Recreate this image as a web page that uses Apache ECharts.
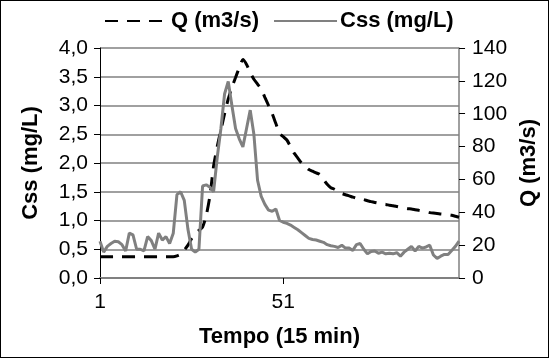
<!DOCTYPE html>
<html lang="pt">
<head>
    <meta charset="UTF-8">
    <title>Q e Css</title>
    <script src="https://cdn.jsdelivr.net/npm/echarts@6/dist/echarts.min.js"></script>
    <style>
        body { margin: 0; background: #fff; }
        #main { width: 549px; height: 358px; border: 1px solid #000; box-sizing: border-box; }
    </style>
</head>
<body>
    <div id="main"></div>
    <script>
        // tempo (intervalos de 15 min)
        var tempo = []
        for (var i = 1; i <= 99; i++) tempo.push(String(i))

        // vazão Q (m3/s)
        var vazao = [13, 13, 13, 13, 13, 13, 13, 13, 13, 13,
            13, 13, 13, 13, 13, 13, 13, 13, 13, 13,
            13, 13.5, 14.5, 17, 20, 24, 27, 29, 31, 38,
            50, 68, 80, 90, 100, 109, 116, 122, 128, 133,
            130, 125, 121, 118, 115, 110, 105, 100, 94, 88,
            86, 84, 80, 76, 73, 70, 68, 66, 65, 64,
            63, 60, 57, 55, 54, 52.7, 51.5, 50.7, 50, 49.2,
            48.5, 48, 47.7, 47, 46.5, 46, 45.5, 45, 44.8, 44.3,
            44, 43.5, 43, 42.6, 42.2, 42, 41.6, 41.2, 40.8, 40.3,
            39.8, 39.5, 39.3, 39, 38.8, 38.6, 38.2, 37.6, 37]

        // concentração de sedimentos Css (mg/L)
        var css = [0.64, 0.45, 0.55, 0.6, 0.64, 0.63, 0.58, 0.47, 0.78, 0.75,
            0.5, 0.5, 0.47, 0.72, 0.65, 0.5, 0.78, 0.66, 0.72, 0.6,
            0.78, 1.45, 1.5, 1.35, 0.85, 0.5, 0.45, 0.5, 1.6, 1.62,
            1.58, 1.5, 2.1, 2.6, 3.2, 3.42, 3.0, 2.6, 2.42, 2.28,
            2.6, 2.92, 2.5, 1.7, 1.42, 1.28, 1.18, 1.16, 1.2, 1.0,
            0.97, 0.95, 0.92, 0.88, 0.84, 0.79, 0.74, 0.69, 0.67, 0.66,
            0.64, 0.62, 0.58, 0.56, 0.55, 0.53, 0.57, 0.52, 0.52, 0.48,
            0.58, 0.6, 0.5, 0.42, 0.46, 0.47, 0.43, 0.45, 0.42, 0.43,
            0.42, 0.44, 0.38, 0.45, 0.5, 0.55, 0.47, 0.55, 0.52, 0.54,
            0.57, 0.4, 0.34, 0.38, 0.41, 0.41, 0.48, 0.55, 0.64]

        var fonte = 'Liberation Sans, Arial, sans-serif'
        var cinza = '#808080'

        var myEcharts = echarts.init(document.getElementById('main'))

        var option = {
            animation: false,
            textStyle: { fontFamily: fonte },
            legend: {
                top: 4,
                left: 98,
                itemWidth: 63,
                itemHeight: 14,
                itemGap: 14,
                itemStyle: { opacity: 0 },
                textStyle: { fontSize: 22, fontWeight: 'bold', color: '#000', fontFamily: fonte, padding: [0, 0, 0, -2] },
                data: ['Q (m3/s)', 'Css (mg/L)']
            },
            grid: { left: 99, right: 83, top: 47, bottom: 79 },
            xAxis: {
                type: 'category',
                boundaryGap: false,
                data: tempo,
                name: 'Tempo (15 min)',
                nameLocation: 'middle',
                nameGap: 48,
                nameTextStyle: { fontSize: 22, fontWeight: 'bold', color: '#000' },
                axisLine: { lineStyle: { color: cinza, width: 2 } },
                axisTick: {
                    length: 6,
                    lineStyle: { color: '#000' },
                    interval: function (idx) { return idx % 50 === 0 }
                },
                axisLabel: {
                    fontSize: 21, color: '#000', margin: 14,
                    interval: function (idx) { return idx % 50 === 0 }
                },
                splitLine: { show: false }
            },
            yAxis: [
                {
                    type: 'value',
                    min: 0, max: 4, interval: 0.5,
                    name: 'Css (mg/L)',
                    nameLocation: 'middle',
                    nameRotate: 90,
                    nameGap: 58,
                    nameTextStyle: { fontSize: 22, fontWeight: 'bold', color: '#000' },
                    axisLine: { show: true, lineStyle: { color: '#000', width: 1 } },
                    axisTick: { show: true, length: 6, lineStyle: { color: '#000' } },
                    axisLabel: {
                        fontSize: 21, color: '#000', margin: 12,
                        formatter: function (v) { return v.toFixed(1).replace('.', ',') }
                    },
                    splitLine: { lineStyle: { color: cinza, width: 1.5 } }
                },
                {
                    type: 'value',
                    min: 0, max: 140, interval: 20,
                    name: 'Q (m3/s)',
                    nameLocation: 'middle',
                    nameRotate: 90,
                    nameGap: 48,
                    nameTextStyle: { fontSize: 22, fontWeight: 'bold', color: '#000' },
                    axisLine: { show: true, lineStyle: { color: cinza, width: 1.5 } },
                    axisTick: { show: true, length: 6, lineStyle: { color: '#000' } },
                    axisLabel: { fontSize: 21, color: '#000', margin: 13 },
                    splitLine: { show: false }
                }
            ],
            series: [
                {
                    name: 'Q (m3/s)',
                    type: 'line',
                    yAxisIndex: 1,
                    data: vazao,
                    symbol: 'none',
                    smooth: 0.2,
                    lineStyle: { color: '#000', width: 3, type: [13, 9] },
                    itemStyle: { color: '#000' }
                },
                {
                    name: 'Css (mg/L)',
                    type: 'line',
                    yAxisIndex: 0,
                    data: css,
                    symbol: 'none',
                    lineStyle: { color: cinza, width: 3 },
                    itemStyle: { color: cinza }
                }
            ]
        }

        myEcharts.setOption(option)
    </script>
</body>
</html>
